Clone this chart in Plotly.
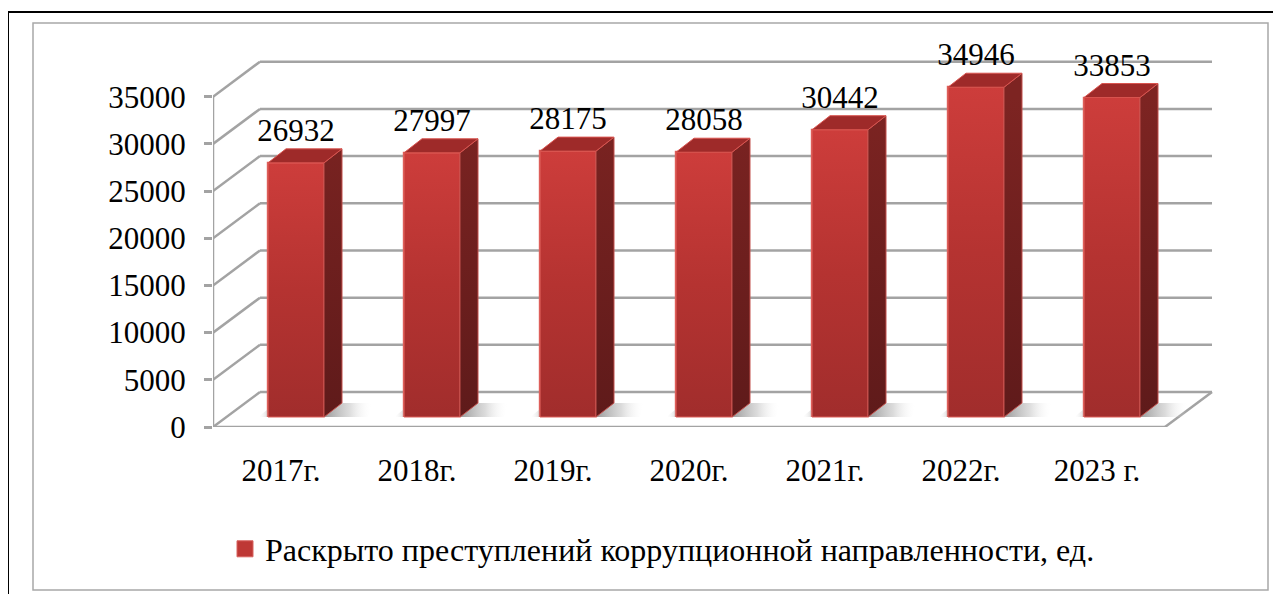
import plotly.graph_objects as go

# ---------------- data ----------------
categories = ["2017г.", "2018г.", "2019г.", "2020г.", "2021г.", "2022г.", "2023 г."]
values = [26932, 27997, 28175, 28058, 30442, 34946, 33853]
y_ticks = [0, 5000, 10000, 15000, 20000, 25000, 30000, 35000]
series_name = "Раскрыто преступлений коррупционной направленности, ед."

# ---------------- geometry ----------------
W, H = 1281, 594
SHIFT = 8  # page body margin compensation
AX_LEFT_PX, AX_ZERO_PX, PLOT_TOP_PX, PLOT_RIGHT_PX = 213, 427, 50, 1214
L = AX_LEFT_PX - SHIFT
T = PLOT_TOP_PX - SHIFT
B = H - (AX_ZERO_PX - SHIFT)
R = W - (PLOT_RIGHT_PX - SHIFT)
plot_w = W - L - R
plot_h = H - T - B
PX_PER_CAT = 136.0
UNITS_PER_PX = 35000 / 330.3

def dx(px):
    return px / PX_PER_CAT

def dy(px):
    return px * UNITS_PER_PX

x_lo = -0.5
x_hi = x_lo + plot_w / PX_PER_CAT
y_hi = plot_h * UNITS_PER_PX

n = len(categories)
BX, BY = dx(47), dy(35)          # back-wall depth vector
OFF_X, BASE = dx(15), dy(10)     # bar front-face offset into depth
BAR_W = dx(56)
SX, SY = dx(18), dy(14)          # bar depth vector

GRID = "#A3A3A3"
FONT = "Liberation Serif, Tinos, 'Times New Roman', 'DejaVu Serif', serif"

def px2paper_x(px):
    return (px - SHIFT - L) / plot_w

def px2paper_y(py):
    return (H - B - (py - SHIFT)) / plot_h

shapes = []
def dline(x0, y0, x1, y1, color=GRID, width=2.5):
    shapes.append(dict(type="line", xref="x", yref="y", x0=x0, y0=y0, x1=x1, y1=y1,
                       line=dict(color=color, width=width), layer="below"))

front_l = -0.5
front_r = n - 0.5
for v in y_ticks:
    dline(front_l, v, front_l + BX, v + BY)
    dline(front_l + BX, v + BY, front_r + BX, v + BY)
dline(front_l, 0, front_l, y_ticks[-1])
dline(front_l, 0, front_r, 0)
dline(front_r, 0, front_r + BX, BY)
for k in range(n + 1):
    dline(k - 0.5, 0, k - 0.5, -dy(9))

def pline(x0, y0, x1, y1, color, width):
    shapes.append(dict(type="line", xref="paper", yref="paper",
                       x0=px2paper_x(x0), y0=px2paper_y(y0),
                       x1=px2paper_x(x1), y1=px2paper_y(y1),
                       line=dict(color=color, width=width), layer="below"))

pline(8, 12, W + 20, 12, "#000000", 2)
pline(8, 12, 8, H + 20, "#000000", 2)
shapes.append(dict(type="rect", xref="paper", yref="paper",
                   x0=px2paper_x(33), y0=px2paper_y(590), x1=px2paper_x(1268), y1=px2paper_y(23),
                   line=dict(color="#A8A8A8", width=1.5), fillcolor="rgba(0,0,0,0)", layer="below"))

fig = go.Figure()

xc = [i + OFF_X for i in range(n)]

# floor shadows (soft, mostly to the right of each bar)
for i in range(n):
    xl = xc[i] - BAR_W / 2 - dx(10)
    x1 = xc[i] + BAR_W / 2 + SX + dx(26)
    fig.add_trace(go.Scatter(
        x=[xl, x1, x1 + dx(4), xl + SX], y=[BASE, BASE, BASE + SY, BASE + SY],
        fill="toself", mode="none", hoverinfo="skip", showlegend=False,
        fillcolor="rgba(160,160,160,0.4)",
        fillgradient=dict(type="horizontal", start=xl, stop=x1 + dx(4),
                          colorscale=[[0, "rgba(255,255,255,0)"], [0.12, "rgba(140,140,140,0.6)"],
                                      [0.6, "rgba(120,120,120,0.7)"], [0.8, "rgba(175,175,175,0.45)"],
                                      [1, "rgba(255,255,255,0)"]]),
    ))

# front faces (bars)
fig.add_trace(go.Bar(
    x=xc, y=values, base=BASE, width=BAR_W, name=series_name,
    marker=dict(color="#B83432", line=dict(color="#E0625D", width=1.2)),
    showlegend=False, hoverinfo="skip",
))

# vertical shading of each front face
for i, v in enumerate(values):
    xl = xc[i] - BAR_W / 2
    xr = xc[i] + BAR_W / 2
    top = BASE + v
    fig.add_trace(go.Scatter(
        x=[xl, xr, xr, xl, xl], y=[BASE, BASE, top, top, BASE],
        fill="toself", mode="lines", line=dict(color="#DD5E59", width=1.2),
        fillcolor="#B83432",
        fillgradient=dict(type="vertical", start=BASE, stop=top,
                          colorscale=[[0, "#A12D2C"], [0.5, "#B53331"], [1, "#CD3D3B"]]),
        hoverinfo="skip", showlegend=False,
    ))

# side and top faces
sx, sy, tx, ty = [], [], [], []
for i, v in enumerate(values):
    xr = xc[i] + BAR_W / 2
    xl = xc[i] - BAR_W / 2
    top = BASE + v
    sx += [xr, xr, xr + SX, xr + SX, xr, None]
    sy += [BASE, top, top + SY, BASE + SY, BASE, None]
    tx += [xl, xr, xr + SX, xl + SX, xl, None]
    ty += [top, top, top + SY, top + SY, top, None]
fig.add_trace(go.Scatter(x=sx, y=sy, fill="toself", mode="lines",
                         line=dict(color="#C2504C", width=1), fillcolor="#701F1E",
                         fillgradient=dict(type="vertical", start=0, stop=max(values),
                                           colorscale=[[0, "#5E1A1A"], [1, "#7D2422"]]),
                         hoverinfo="skip", showlegend=False))
fig.add_trace(go.Scatter(x=tx, y=ty, fill="toself", mode="lines",
                         line=dict(color="#D9544F", width=1), fillcolor="#9E2A29",
                         hoverinfo="skip", showlegend=False))

# data labels
fig.add_trace(go.Scatter(
    x=xc, y=[BASE + v + SY for v in values], mode="text",
    text=[str(v) for v in values], textposition="top center",
    textfont=dict(family=FONT, size=31, color="#000000"),
    hoverinfo="skip", showlegend=False, cliponaxis=False,
))

# legend entry for the series
fig.add_trace(go.Scatter(
    x=[None], y=[None], mode="markers", name=series_name,
    marker=dict(symbol="square", size=16, color="#BE3835", line=dict(color="#D9625E", width=1)),
    showlegend=True, hoverinfo="skip",
))

fig.update_layout(
    width=W, height=H,
    margin=dict(l=L, r=R, t=T, b=B, pad=0),
    paper_bgcolor="white", plot_bgcolor="white",
    font=dict(family=FONT, size=31, color="#000000"),
    shapes=shapes,
    bargap=0,
    showlegend=True,
    legend=dict(orientation="h", x=px2paper_x(225), xanchor="left",
                y=px2paper_y(549), yanchor="middle",
                font=dict(family=FONT, size=32, color="#000000"),
                bgcolor="rgba(0,0,0,0)"),
    xaxis=dict(range=[x_lo, x_hi], tickmode="array", tickvals=list(range(n)), ticktext=categories,
               ticks="", showgrid=False, zeroline=False, showline=False,
               ticklabelstandoff=22, tickfont=dict(family=FONT, size=31)),
    yaxis=dict(range=[0, y_hi], tickmode="array", tickvals=y_ticks, ticktext=[str(v) for v in y_ticks],
               ticks="outside", ticklen=8, tickwidth=2.5, tickcolor=GRID,
               showgrid=False, zeroline=False, showline=False,
               ticklabelstandoff=12, tickfont=dict(family=FONT, size=31)),
)

fig.write_html("out.html")
